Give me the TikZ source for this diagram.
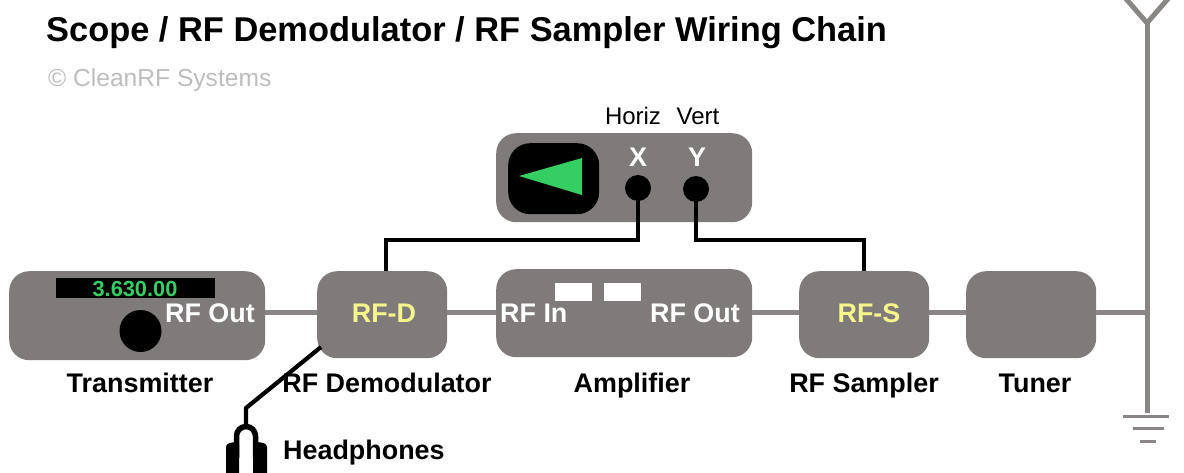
\documentclass[tikz,border=0pt]{standalone}
\usepackage{fontspec}
\setmainfont{Liberation Sans}
\definecolor{boxgrey}{HTML}{7F7B7A}
\definecolor{wiregrey}{HTML}{8A8686}
\definecolor{scopegreen}{HTML}{35CE62}
\definecolor{labelyellow}{HTML}{F5F58C}
\definecolor{subgrey}{HTML}{BDBDBD}
\tikzset{
  unitbox/.style={draw=none,fill=boxgrey,rounded corners=20pt,inner sep=0pt,anchor=north west},
  rfwire/.style={draw=wiregrey,line width=5pt},
  sigwire/.style={draw=black,line width=4.2pt,line join=miter},
  gnd/.style={draw=wiregrey,line width=3pt},
  caption/.style={font=\fontsize{26.9}{30}\selectfont\bfseries,text=black,anchor=base,inner sep=0pt},
  inlabel/.style={font=\fontsize{26.9}{30}\selectfont\bfseries,text=white,anchor=base,inner sep=0pt},
  tag/.style={font=\fontsize{26.9}{30}\selectfont\bfseries,text=labelyellow,anchor=base,inner sep=0pt},
  smalltext/.style={font=\fontsize{24}{28}\selectfont,text=black,anchor=base,inner sep=0pt},
  jack/.style={circle,fill=black,minimum size=26pt,inner sep=0pt},
  lamp/.style={fill=white,inner sep=0pt,anchor=north west,minimum height=18pt,minimum width=37pt}
}
\begin{document}
\begin{tikzpicture}[x=1pt,y=-1pt]
\useasboundingbox (0,0) rectangle (1184,472);
\clip (0,0) rectangle (1184,472);
% title
\node[font=\fontsize{34.4}{38}\selectfont\bfseries,anchor=base west,inner sep=0pt] (title) at (46,41) {Scope / RF Demodulator / RF Sampler Wiring Chain};
\node[font=\fontsize{24.6}{28}\selectfont,text=subgrey,anchor=base west,inner sep=0pt] (copy) at (48,86) {© CleanRF Systems};
% boxes
\node[unitbox,minimum width=256pt,minimum height=89pt] (tx) at (9,271) {};
\node[unitbox,minimum width=130pt,minimum height=87pt] (rfd) at (317,271) {};
\node[unitbox,minimum width=256pt,minimum height=88pt] (amp) at (496,269) {};
\node[unitbox,minimum width=130pt,minimum height=87pt] (rfs) at (799,271) {};
\node[unitbox,minimum width=130pt,minimum height=87pt] (tuner) at (966,271) {};
\node[unitbox,minimum width=256pt,minimum height=89pt] (scope) at (496,133) {};
% transmitter
\node[fill=black,inner sep=0pt,anchor=north west,minimum width=159pt,minimum height=20pt] (display) at (56,278) {};
\node[font=\fontsize{21.8}{24}\selectfont\bfseries,text=scopegreen,anchor=base,inner sep=0pt] (freq) at (135,296) {3.630.00};
\node[circle,fill=black,minimum size=42pt,inner sep=0pt] (knob) at (140.5,331) {};
\node[inlabel,anchor=base east] (txout) at (255,322) {RF Out};
% demod, sampler
\node[tag] (rfdtag) at (384,322) {RF-D};
\node[tag] (rfstag) at (869,322) {RF-S};
% amplifier
\node[lamp] (lampa) at (555,283) {};
\node[lamp] (lampb) at (604,283) {};
\node[inlabel,anchor=base west] (ampin) at (500,322) {RF In};
\node[inlabel,anchor=base east] (ampout) at (740,322) {RF Out};
% scope
\node[fill=black,rounded corners=22pt,inner sep=0pt,anchor=north west,minimum width=91pt,minimum height=71pt] (screen) at (508,143) {};
\fill[scopegreen] (519,176) -- (582,158) -- (582,195) -- cycle;
\node[jack] (xjack) at (638,188) {};
\node[jack] (yjack) at (696,189) {};
\node[inlabel] (xlab) at (638,166) {X};
\node[inlabel] (ylab) at (697,166) {Y};
\node[smalltext] (horiz) at (633,124) {Horiz};
\node[smalltext] (vert) at (698,124) {Vert};
% captions
\node[caption] (c1) at (140,392) {Transmitter};
\node[caption] (c2) at (387,392) {RF Demodulator};
\node[caption] (c3) at (632,392) {Amplifier};
\node[caption] (c4) at (864,392) {RF Sampler};
\node[caption] (c5) at (1035,392) {Tuner};
\node[caption,anchor=base west] (c6) at (283,459) {Headphones};
% rf chain
\coordinate (bus) at (0,312);
\coordinate (mast) at (1147,312);
\coordinate (mastbot) at (1147,413);
\coordinate (masttop) at (1147,23);
\coordinate (armL) at (1121,-7);
\coordinate (armR) at (1173,-7);
\draw[rfwire] (tx.east |- bus) -- (rfd.west |- bus);
\draw[rfwire] (rfd.east |- bus) -- (amp.west |- bus);
\draw[rfwire] (amp.east |- bus) -- (rfs.west |- bus);
\draw[rfwire] (rfs.east |- bus) -- (tuner.west |- bus);
\draw[rfwire] (tuner.east |- bus) -- (mast);
\draw[rfwire] (mastbot) -- (masttop);
\draw[rfwire] (armL) -- (masttop) -- (armR);
% ground
\coordinate (g1a) at (1123,416); \coordinate (g1b) at (1169,416);
\coordinate (g2a) at (1133,428); \coordinate (g2b) at (1164,428);
\coordinate (g3a) at (1140,441); \coordinate (g3b) at (1156,441);
\draw[gnd] (g1a) -- (g1b);
\draw[gnd] (g2a) -- (g2b);
\draw[gnd] (g3a) -- (g3b);
% signal wires
\coordinate (rfdtop) at (386,271);
\draw[sigwire] (xjack.center) |- (rfdtop |- 0,240) -- (rfdtop);
\draw[sigwire] (yjack.center) |- (rfs.north |- 0,240) -- (rfs.north);
% headphones
\coordinate (hpjack) at (321,347);
\coordinate (hpelbow) at (246,408);
\coordinate (hpband) at (246,427);
\draw[draw=black,line width=4.2pt] (hpjack) -- (hpelbow) -- (hpband);
\draw[draw=black,line width=5.5pt] (236.5,458) -- (236.5,436) arc[start angle=180,end angle=0,radius=9.5pt] -- (255.5,458);
\fill[black,rounded corners=3pt] (226,480) -- (226,444) -- (234,442) -- (239,442) -- (239,480) -- cycle;
\fill[black,rounded corners=3pt] (253,480) -- (253,442) -- (259,442) -- (267,444) -- (267,480) -- cycle;
\end{tikzpicture}
\end{document}
